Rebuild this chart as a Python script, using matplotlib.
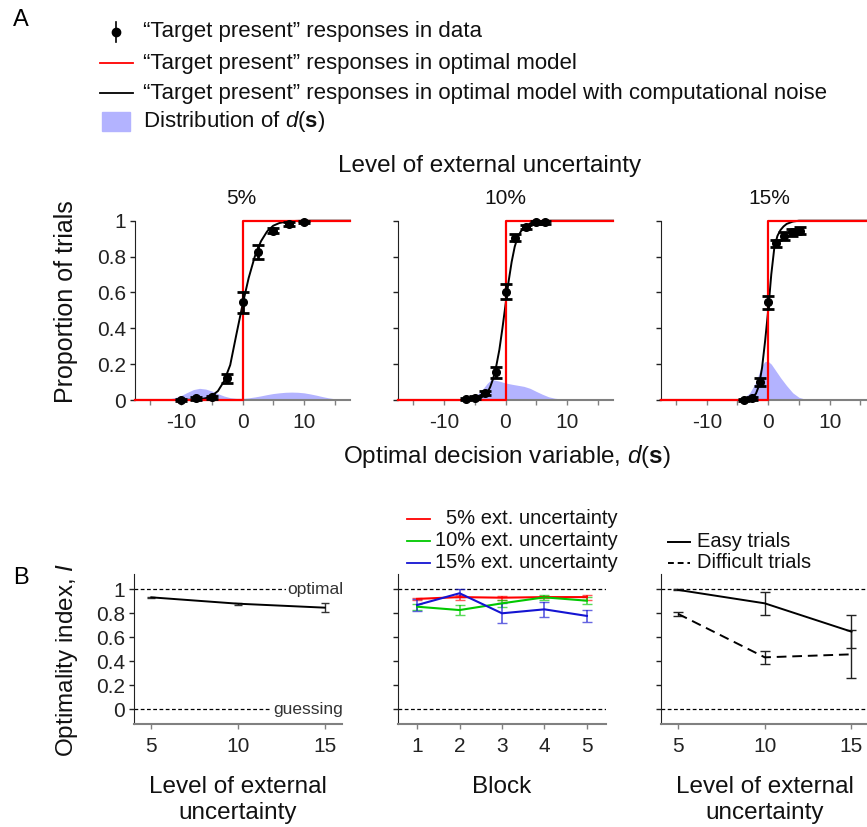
import matplotlib
matplotlib.use("Agg")
import matplotlib.pyplot as plt
from matplotlib.lines import Line2D
from matplotlib.patches import Rectangle
from matplotlib.colors import to_rgba

plt.rcParams['font.family'] = ['Liberation Sans', 'DejaVu Sans']
plt.rcParams['mathtext.fontset'] = 'custom'
plt.rcParams['mathtext.rm'] = 'Liberation Sans'
plt.rcParams['mathtext.it'] = 'Liberation Sans:italic'
plt.rcParams['mathtext.bf'] = 'Liberation Sans:bold'

# ---------------- panel A data ----------------
levels = ["5%", "10%", "15%"]

# proportion of "target present" responses in the data
pts_x_5 = [-10, -7.5, -5, -2.5, 0, 2.5, 5, 7.5, 10]
pts_y_5 = [0.0, 0.01, 0.015, 0.12, 0.545, 0.825, 0.945, 0.98, 0.993]
pts_e_5 = [0.006, 0.008, 0.01, 0.025, 0.058, 0.037, 0.015, 0.01, 0.006]

pts_x_10 = [-6.5, -4.9, -3.3, -1.6, 0, 1.6, 3.3, 4.9, 6.5]
pts_y_10 = [0.005, 0.013, 0.04, 0.155, 0.605, 0.905, 0.965, 0.99, 0.99]
pts_e_10 = [0.006, 0.008, 0.012, 0.03, 0.04, 0.02, 0.012, 0.006, 0.006]

pts_x_15 = [-3.9, -2.6, -1.3, 0, 1.3, 2.6, 3.9, 5.2]
pts_y_15 = [0.0, 0.01, 0.102, 0.545, 0.874, 0.915, 0.935, 0.945]
pts_e_15 = [0.005, 0.008, 0.023, 0.037, 0.02, 0.02, 0.02, 0.02]

# optimal model (step at d = 0)
opt_x = [-17.5, 0, 0, 17.5]
opt_y = [0, 0, 1, 1]

# optimal model with computational noise
curve_x_5 = [-17.5, -10, -8, -7, -6, -5, -4, -3, -2, -1, 0, 1, 2, 3, 4, 5, 6, 7, 8, 10, 17.5]
curve_y_5 = [0, 0.0, 0.002, 0.004, 0.01, 0.023, 0.05, 0.105, 0.195, 0.365, 0.53, 0.68,
             0.8, 0.885, 0.94, 0.972, 0.987, 0.994, 0.998, 1.0, 1.0]

curve_x_10 = [-17.5, -6, -5, -4, -3, -2.5, -2, -1.5, -1, -0.5, 0, 0.5, 1, 1.5, 2, 2.5, 3,
              4, 5, 6, 7, 17.5]
curve_y_10 = [0, 0.0, 0.004, 0.012, 0.038, 0.072, 0.12, 0.19, 0.28, 0.4, 0.53, 0.66, 0.77,
              0.855, 0.91, 0.94, 0.96, 0.985, 0.995, 0.999, 1.0, 1.0]

curve_x_15 = [-17.5, -4, -3, -2.5, -2, -1.5, -1, -0.5, 0, 0.5, 1, 1.5, 2, 2.5, 3, 4, 5, 17.5]
curve_y_15 = [0, 0.0, 0.008, 0.018, 0.035, 0.08, 0.18, 0.33, 0.5, 0.7, 0.85, 0.915, 0.948,
              0.968, 0.982, 0.995, 1.0, 1.0]

# distribution of d(s)
dist_x_5 = [-17.5, -15, -13, -12, -11, -10, -9, -8, -7, -6, -5, -4, -3, -2, -1, 0, 1, 2, 3,
            4, 5, 6, 7, 8, 9, 10, 11, 12, 13, 14, 15, 16, 17.5]
dist_y_5 = [0, 0.0, 0.002, 0.006, 0.013, 0.025, 0.042, 0.058, 0.065, 0.061, 0.05, 0.035,
            0.022, 0.013, 0.009, 0.009, 0.012, 0.017, 0.023, 0.03, 0.036, 0.04, 0.043, 0.044,
            0.043, 0.04, 0.034, 0.027, 0.019, 0.012, 0.007, 0.004, 0.002]

dist_x_10 = [-17.5, -7, -6, -5, -4, -3, -2.3, -1, 0, 1, 2, 3, 4, 5, 6, 7, 8, 10, 17.5]
dist_y_10 = [0, 0, 0.005, 0.02, 0.048, 0.092, 0.115, 0.105, 0.095, 0.088, 0.082, 0.076,
             0.065, 0.048, 0.032, 0.018, 0.01, 0.002, 0]

dist_x_15 = [-17.5, -5, -4, -3, -2, -1.5, -1, -0.5, 0, 0.5, 1, 1.5, 2, 3, 4, 5, 6, 7, 17.5]
dist_y_15 = [0, 0, 0.01, 0.04, 0.1, 0.15, 0.195, 0.215, 0.215, 0.2, 0.175, 0.15, 0.125,
             0.08, 0.04, 0.015, 0.005, 0, 0]

# ---------------- panel B data ----------------
ext_levels = [5, 10, 15]
overall_I = [0.933, 0.88, 0.847]
overall_err = [0.005, 0.008, 0.035]

blocks = [1, 2, 3, 4, 5]
block_I_5 = [0.92, 0.935, 0.93, 0.935, 0.935]
block_err_5 = [0.01, 0.02, 0.015, 0.01, 0.02]
block_I_10 = [0.855, 0.827, 0.883, 0.933, 0.905]
block_err_10 = [0.025, 0.04, 0.03, 0.022, 0.027]
block_I_15 = [0.869, 0.967, 0.8, 0.833, 0.778]
block_err_15 = [0.05, 0.035, 0.083, 0.06, 0.053]

easy_I = [0.995, 0.883, 0.647]
easy_err = [0.004, 0.097, 0.14]
diff_I = [0.795, 0.433, 0.458]
diff_err = [0.02, 0.055, 0.2]

# ---------------- layout ----------------
W, H = 867, 827
fig = plt.figure(figsize=(W / 100, H / 100), dpi=100)


def box(x0, ytop, w, h):
    return [x0 / W, 1 - (ytop + h) / H, w / W, h / H]


def fx(x):
    return x / W


def fy(y):
    return 1 - y / H


def style(ax):
    ax.spines['top'].set_visible(False)
    ax.spines['right'].set_visible(False)
    ax.spines['left'].set_color('#222222')
    ax.spines['bottom'].set_color('#808080')
    ax.spines['bottom'].set_linewidth(1.5)
    ax.tick_params(direction='out', length=3.5, width=1, labelsize=15,
                   labelcolor='#222222', color='#222222')
    ax.tick_params(axis='x', color='#808080', pad=6)
    ax.tick_params(axis='y', pad=3)


fill_col = '#b3b3ff'

# ---------- A ----------
top_left = [135, 398, 660.7]
axA = [fig.add_axes(box(x, 220.7, 215, 179.3)) for x in top_left]
pts = [(pts_x_5, pts_y_5, pts_e_5), (pts_x_10, pts_y_10, pts_e_10),
       (pts_x_15, pts_y_15, pts_e_15)]
curves = [(curve_x_5, curve_y_5), (curve_x_10, curve_y_10), (curve_x_15, curve_y_15)]
dists = [(dist_x_5, dist_y_5), (dist_x_10, dist_y_10), (dist_x_15, dist_y_15)]
sub_x = [241, 505, 769]

for i, ax in enumerate(axA):
    style(ax)
    ax.fill_between(dists[i][0], dists[i][1], 0, color=fill_col, lw=0, zorder=1)
    ax.plot(curves[i][0], curves[i][1], color='black', lw=1.4, zorder=3, clip_on=False)
    ax.plot(opt_x, opt_y, color='red', lw=1.6, zorder=4, clip_on=False)
    eb = ax.errorbar(pts[i][0], pts[i][1], yerr=pts[i][2], fmt='o', color='black',
                     ms=5.5, elinewidth=2, capsize=4, capthick=2, zorder=5)
    for art in eb.get_children():
        art.set_clip_on(False)
    ax.set_xlim(-17.5, 17.5)
    ax.set_ylim(0, 1)
    ax.set_xticks([-15, -10, -5, 0, 5, 10, 15])
    ax.set_xticklabels(['', '-10', '', '0', '', '10', ''])
    ax.set_yticks([0, 0.2, 0.4, 0.6, 0.8, 1])
    if i == 0:
        ax.set_yticklabels(['0', '0.2', '0.4', '0.6', '0.8', '1'])
    else:
        ax.set_yticklabels([])
    fig.text(fx(sub_x[i]), fy(198), levels[i], fontsize=15, ha='center', va='center',
             color='#111111')

fig.text(fx(490), fy(166), 'Level of external uncertainty', fontsize=17.5,
         ha='center', va='center', color='#111111')
fig.text(fx(507), fy(463), r'Optimal decision variable, $d$($\mathbf{s}$)', fontsize=17.5,
         ha='center', va='baseline', color='#111111')
fig.text(fx(66), fy(302), 'Proportion of trials', fontsize=18, rotation=90,
         ha='center', va='center', color='#111111')

# legend A
fig.text(fx(21), fy(20), 'A', fontsize=17, ha='center', va='center')
leg_y = [32, 63, 93, 122]
fig.add_artist(Line2D([fx(115.7)] * 2, [fy(22), fy(42)], color='black', lw=1.2))
fig.add_artist(Line2D([fx(115.7)], [fy(32)], marker='o', ms=6, color='black'))
fig.add_artist(Line2D([fx(100), fx(133)], [fy(63)] * 2, color='red', lw=1.3))
fig.add_artist(Line2D([fx(100), fx(133)], [fy(93)] * 2, color='black', lw=1.3))
fig.add_artist(Rectangle((fx(102), fy(131)), fx(28), 19 / H, color=fill_col,
                         transform=fig.transFigure))
leg_labels = ['\u201cTarget present\u201d responses in data',
              '\u201cTarget present\u201d responses in optimal model',
              '\u201cTarget present\u201d responses in optimal model with computational noise',
              r'Distribution of $d$($\mathbf{s}$)']
for yy, lab in zip(leg_y, leg_labels):
    fig.text(fx(143), fy(yy), lab, fontsize=16, ha='left', va='center', color='#111111')

# ---------- B ----------
axB = [fig.add_axes(box(x, 573.7, 208, 150)) for x in (134, 398, 660.8)]
dash = (0, (3, 2))
for i, ax in enumerate(axB):
    style(ax)
    ax.axhline(1, color='black', ls=dash, lw=0.9, zorder=1)
    ax.axhline(0, color='black', ls=dash, lw=0.9, zorder=1)
    ax.set_ylim(-0.12, 1.13)
    ax.set_yticks([0, 0.2, 0.4, 0.6, 0.8, 1])
    if i == 0:
        ax.set_yticklabels(['0', '0.2', '0.4', '0.6', '0.8', '1'])
    else:
        ax.set_yticklabels([])

ax = axB[0]
ax.errorbar(ext_levels, overall_I, yerr=overall_err, color='black', lw=1.4,
            ecolor='#333333', elinewidth=1, capsize=3, zorder=3)
ax.set_xlim(4, 16)
ax.set_xticks(ext_levels)
for yv, lab in [(1, 'optimal'), (0, 'guessing')]:
    ax.text(1.005, yv, lab, transform=ax.get_yaxis_transform(), ha='right', va='center',
            fontsize=12.5, color='#333333', zorder=2,
            bbox=dict(fc='white', ec='none', pad=1.0))

ax = axB[1]
for vals, errs, col in [(block_I_5, block_err_5, '#ff0000'),
                        (block_I_10, block_err_10, '#00c800'),
                        (block_I_15, block_err_15, '#1414d2')]:
    ax.errorbar(blocks, vals, yerr=errs, color=col, lw=1.5, ecolor=to_rgba(col, 0.65),
                elinewidth=1.3, capsize=3.5, zorder=3)
ax.set_xlim(0.55, 5.45)
ax.set_xticks(blocks)

ax = axB[2]
ax.errorbar(ext_levels, easy_I, yerr=easy_err, color='black', lw=1.4, ecolor='#222222',
            elinewidth=1, capsize=3.5, zorder=3, clip_on=False)
ax.errorbar(ext_levels, diff_I, yerr=diff_err, color='black', lw=1.4, ls=(0, (5, 3)),
            ecolor='#222222', elinewidth=1, capsize=3.5, zorder=3)
ax.set_xlim(4, 16)
ax.set_xticks(ext_levels)

# x labels of panel B
for cx, lines in [(237.8, ['Level of external', 'uncertainty']), (502, ['Block']),
                  (764.7, ['Level of external', 'uncertainty'])]:
    for k, ln in enumerate(lines):
        fig.text(fx(cx), fy(793.3 + 26 * k), ln, fontsize=17.5, ha='center',
                 va='baseline', color='#111111')
fig.text(fx(67), fy(660), r'Optimality index, $I$', fontsize=17.5, rotation=90,
         ha='center', va='center', color='#111111')
fig.text(fx(21), fy(578), 'B', fontsize=17, ha='center', va='center')

# legend of the block panel
for yy, lab, col in [(519, '5% ext. uncertainty', '#ff0000'),
                     (541, '10% ext. uncertainty', '#00c800'),
                     (563, '15% ext. uncertainty', '#1414d2')]:
    fig.add_artist(Line2D([fx(407), fx(430)], [fy(yy)] * 2, color=col, lw=1.3))
    fig.text(fx(618), fy(yy), lab, fontsize=14.5, ha='right', va='center', color='#111111')

# legend of the easy/difficult panel
fig.add_artist(Line2D([fx(668), fx(690)], [fy(541.5)] * 2, color='black', lw=1.4))
fig.add_artist(Line2D([fx(668), fx(690)], [fy(562.7)] * 2, color='black', lw=1.4,
                      ls=(0, (3, 2))))
fig.text(fx(697), fy(541.5), 'Easy trials', fontsize=14.5, ha='left', va='center',
         color='#111111')
fig.text(fx(697), fy(562.7), 'Difficult trials', fontsize=14.5, ha='left', va='center',
         color='#111111')

fig.savefig('out.png', dpi=100)
